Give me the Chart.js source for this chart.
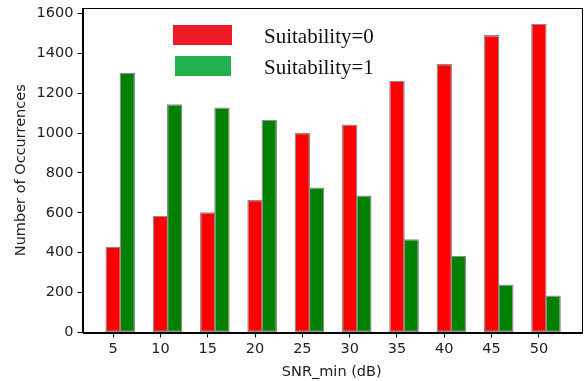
<!DOCTYPE html>
<html>
<head>
<meta charset="utf-8">
<script src="https://cdn.jsdelivr.net/npm/chart.js@4"></script>
<style>
  html, body { margin: 0; padding: 0; background: #fff; }
  #wrap { width: 584px; height: 381px; }
</style>
</head>
<body>
<div id="wrap"><canvas id="grafico"></canvas></div>
<script>
// valores
const categorias = [5, 10, 15, 20, 25, 30, 35, 40, 45, 50];
const suitability0 = [430, 585, 603, 665, 1000, 1043, 1262, 1347, 1491, 1548];
const suitability1 = [1302, 1145, 1128, 1067, 727, 687, 468, 385, 241, 186];
const espacador = [0, 0, 0, 0, 0, 0, 0, 0, 0, 0]; // só para deslocar o grupo
const yTicks = [0, 200, 400, 600, 800, 1000, 1200, 1400, 1600];
const nomesSeries = ['Suitability=0', 'Suitability=1'];
const coresBarras = ['#ff0000', '#008000'];
const coresLegenda = ['#ed1c24', '#22b14c'];

const corTexto = '#222', fonte = 'DejaVu Sans', tamFonte = 14.5;

// moldura em volta da área do gráfico
const moldura = {
    id: 'moldura',
    afterDraw(chart) {
        const {ctx, chartArea: a} = chart;
        ctx.save();
        ctx.strokeStyle = '#000';
        ctx.lineWidth = 1;
        ctx.strokeRect(Math.round(a.left) + 0.5, Math.round(a.top) + 0.5,
            Math.round(a.right - a.left), Math.round(a.bottom - a.top));
        ctx.restore();
    }
};

// legenda desenhada dentro do gráfico (como na figura original)
const legendaInterna = {
    id: 'legendaInterna',
    afterDraw(chart) {
        const ctx = chart.ctx;
        ctx.save();
        ctx.font = '21px "Liberation Serif"';
        ctx.textBaseline = 'alphabetic';
        nomesSeries.forEach((nome, i) => {
            const y = 25 + i * 31;
            ctx.fillStyle = coresLegenda[i];
            ctx.fillRect(173 + i * 2, y, 59 - i * 3, 20);
            ctx.fillStyle = '#111';
            ctx.fillText(nome, 264, y + 18);
        });
        ctx.restore();
    }
};

new Chart('grafico', {
    type: 'bar',
    data: {
        labels: categorias,
        datasets: [
            { label: '', data: espacador, backgroundColor: 'rgba(0,0,0,0)', borderWidth: 0 },
            { label: nomesSeries[0], data: suitability0, backgroundColor: coresBarras[0] },
            { label: nomesSeries[1], data: suitability1, backgroundColor: coresBarras[1] }
        ]
    },
    options: {
        responsive: true,
        maintainAspectRatio: false,
        animation: false,
        layout: { padding: { top: 8, right: 3, left: 0, bottom: 0 } },
        datasets: {
            bar: {
                categoryPercentage: 0.9,
                barPercentage: 1.09,
                borderColor: '#8c8c8c',
                borderWidth: 1.3,
                borderSkipped: false
            }
        },
        plugins: {
            legend: { display: false },
            tooltip: { enabled: false }
        },
        scales: {
            x: {
                type: 'linear',
                offset: false,
                min: 1.76,
                max: 54.45,
                afterBuildTicks: s => { s.ticks = categorias.map(v => ({ value: v })); },
                afterFit: s => { s.height = 48.5; s.paddingLeft = 0; s.paddingRight = 0; },
                grid: { offset: false, drawOnChartArea: false, drawTicks: true, tickLength: 5, color: '#000' },
                border: { color: '#000', width: 1 },
                ticks: { color: corTexto, font: { family: fonte, size: tamFonte }, padding: 3, maxRotation: 0 },
                title: { display: true, text: 'SNR_min (dB)', color: corTexto, font: { family: fonte, size: tamFonte }, padding: { top: 0, bottom: 0 } }
            },
            y: {
                min: 0,
                max: 1627,
                afterBuildTicks: s => { s.ticks = yTicks.map(v => ({ value: v })); },
                afterFit: s => { s.width = 82.5; s.paddingTop = 0; s.paddingBottom = 0; },
                grid: { drawOnChartArea: false, drawTicks: true, tickLength: 5, color: '#000' },
                border: { color: '#000', width: 1 },
                ticks: { color: corTexto, font: { family: fonte, size: tamFonte }, padding: 4, callback: v => String(v) },
                title: { display: true, text: 'Number of Occurrences', color: corTexto, font: { family: fonte, size: tamFonte }, padding: { top: 13, bottom: 0 } }
            }
        }
    },
    plugins: [moldura, legendaInterna]
});
</script>
</body>
</html>
